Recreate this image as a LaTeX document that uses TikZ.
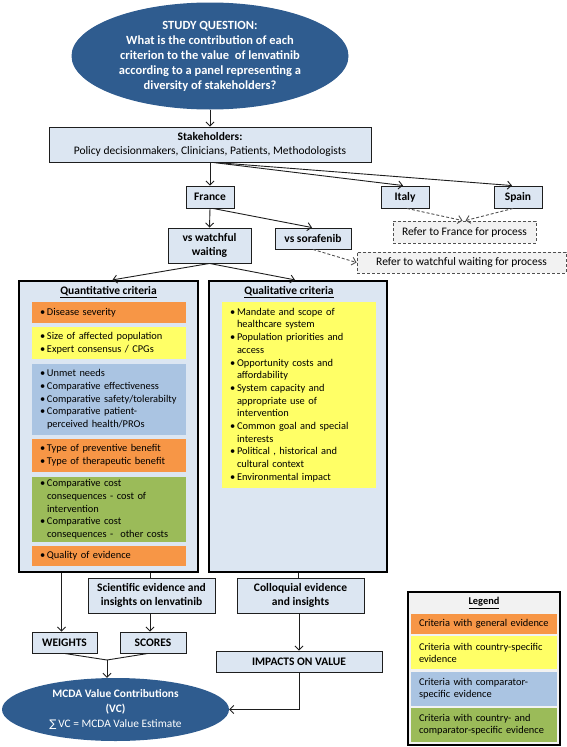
\documentclass[tikz,border=0pt]{standalone}
\usepackage{fontspec}
\setmainfont{Carlito}
\newfontfamily\symfont{DejaVu Sans}
\usetikzlibrary{arrows.meta,shapes.geometric}
\definecolor{dblue}{RGB}{47,92,143}
\definecolor{lblue}{RGB}{220,230,242}
\definecolor{corange}{RGB}{247,150,70}
\definecolor{cyellow}{RGB}{255,255,102}
\definecolor{cblue}{RGB}{170,196,226}
\definecolor{cgreen}{RGB}{155,187,89}
\definecolor{lgray}{RGB}{242,242,242}
\definecolor{lnc}{RGB}{30,30,30}
\definecolor{dashc}{RGB}{80,80,80}
\newcommand{\bitem}[1]{\leftskip=7pt\noindent\llap{\makebox[7pt][l]{•}}#1\par}
\begin{document}
\begin{tikzpicture}[x=1pt,y=-1pt,
  ell/.style={ellipse, fill=dblue, text=white, inner sep=0pt, align=center},
  lbox/.style={draw=lnc, line width=0.9pt, fill=lblue, inner sep=0pt, align=center, font=\fontsize{11.5}{14}\selectfont},
  lboxb/.style={lbox, font=\bfseries\fontsize{11.5}{14}\selectfont},
  dbox/.style={draw=dashc, dashed, dash pattern=on 3pt off 2pt, line width=0.9pt, fill=lgray, inner sep=0pt, font=\fontsize{11.5}{14}\selectfont},
  bigbox/.style={draw=black, line width=2.2pt, fill=lblue, inner sep=0pt},
  titlet/.style={inner sep=0pt, font=\bfseries\fontsize{11.5}{14}\selectfont},
  cbox/.style={inner sep=0pt, minimum width=154pt, text width=138pt, align=left, font=\fontsize{10.4}{12.7}\selectfont},
  lcbox/.style={inner sep=0pt, minimum width=146pt, text width=130pt, align=left, font=\fontsize{10.4}{12}\selectfont},
  legbox/.style={draw=black, line width=2pt, fill=lgray, inner sep=0pt},
  conn/.style={draw=lnc, line width=0.9pt},
  arr/.style={conn, -{Straight Barb[length=4pt,width=8pt]}},
  darr/.style={draw=dashc, line width=0.9pt, dashed, dash pattern=on 3pt off 2pt, -{Straight Barb[length=4pt,width=8pt]}}
]
\useasboundingbox (0,0) rectangle (567,747);

% top ellipse
\node[ell, minimum width=277pt, minimum height=107pt, font=\bfseries\fontsize{12.5}{15}\selectfont] (q) at (210,56)
  {STUDY QUESTION:\\What is the contribution of each\\criterion to the value\ \ of lenvatinib\\according to a panel representing a\\diversity of stakeholders?};

\node[lbox, minimum width=322pt, minimum height=35pt] (stake) at (210,144.5)
  {\textbf{Stakeholders:}\\Policy decisionmakers, Clinicians, Patients, Methodologists};

\node[lboxb, minimum width=48pt, minimum height=22pt] (france) at (210,197) {France};
\node[lboxb, minimum width=48pt, minimum height=22pt] (italy) at (405,197) {Italy};
\node[lboxb, minimum width=48pt, minimum height=22pt] (spain) at (518,197) {Spain};
\node[dbox, minimum width=143pt, minimum height=22pt] (reffr) at (464.5,232) {Refer to France for process};
\node[lboxb, minimum width=83pt, minimum height=35pt] (vsww) at (209.5,245.5) {vs watchful\\waiting};
\node[lboxb, minimum width=76pt, minimum height=21pt] (vssor) at (313,238.5) {vs sorafenib};
\node[dbox, minimum width=209pt, minimum height=21pt] (refww) at (461.5,262.5) {Refer to watchful waiting for process};

% criteria panels
\node[bigbox, minimum width=179pt, minimum height=291pt] (quant) at (108.5,426.5) {};
\node[bigbox, minimum width=178pt, minimum height=291pt] (qual) at (298,426.5) {};
\node[titlet] (quantt) at (108.5,292) {\underline{Quantitative criteria}};
\node[titlet] (qualt) at (289,292) {\underline{Qualitative criteria}};

\node[cbox, fill=corange, minimum height=21pt] (o1) at (109,312.5) {\bitem{Disease severity}};
\node[cbox, fill=cyellow, minimum height=32pt] (y1) at (109,343) {\bitem{Size of affected population}\bitem{Expert consensus / CPGs}};
\node[cbox, fill=cblue, minimum height=71pt] (b1) at (109,399.5) {\bitem{Unmet needs}\bitem{Comparative effectiveness}\bitem{Comparative safety/tolerabilty}\bitem{Comparative patient-\newline perceived health/PROs}};
\node[cbox, fill=corange, minimum height=33pt] (o2) at (109,455.5) {\bitem{Type of preventive benefit}\bitem{Type of therapeutic benefit}};
\node[cbox, fill=cgreen, minimum height=65pt] (g1) at (109,509.5) {\bitem{Comparative cost\newline consequences - cost of\newline intervention}\bitem{Comparative cost\newline consequences -\ \ other costs}};
\node[cbox, fill=corange, minimum height=20pt] (o3) at (109,556) {\bitem{Quality of evidence}};

\node[cbox, fill=cyellow, minimum height=186pt] (y2) at (299,395) {\bitem{Mandate and scope of\newline healthcare system}\bitem{Population priorities and\newline access}\bitem{Opportunity costs and\newline affordability}\bitem{System capacity and\newline appropriate use of\newline intervention}\bitem{Common goal and special\newline interests}\bitem{Political , historical and\newline cultural context}\bitem{Environmental impact}};

% bottom part
\node[lboxb, minimum width=127pt, minimum height=35pt] (sci) at (151.5,595.5) {Scientific evidence and\\insights on lenvatinib};
\node[lboxb, minimum width=127pt, minimum height=35pt] (coll) at (300.5,595.5) {Colloquial evidence\\and insights};
\node[lboxb, minimum width=65pt, minimum height=21pt] (weights) at (64.5,642.5) {WEIGHTS};
\node[lboxb, minimum width=66pt, minimum height=21pt] (scores) at (153,642.5) {SCORES};
\node[lboxb, minimum width=166pt, minimum height=21pt] (impacts) at (299,661.5) {IMPACTS ON VALUE};
\node[ell, minimum width=227pt, minimum height=63pt, font=\fontsize{11.4}{15}\selectfont] (mcda) at (115.5,709.5)
  {\textbf{MCDA Value Contributions}\\\textbf{(VC)}\\{\symfont\fontsize{10.5}{15}\selectfont ∑}\,VC = MCDA Value Estimate};
\coordinate (j) at (107,660);

% legend
\node[legbox, minimum width=152pt, minimum height=153pt] (leg) at (484,668.5) {};
\node[titlet, font=\bfseries\fontsize{10.4}{12}\selectfont] (legt) at (484,603) {\underline{Legend}};
\node[lcbox, fill=corange, minimum height=20pt] (lo) at (484,624) {Criteria with general evidence};
\node[lcbox, fill=cyellow, minimum height=33pt] (ly) at (484,652.5) {Criteria with country-specific\\evidence};
\node[lcbox, fill=cblue, minimum height=34pt] (lb) at (484,689) {Criteria with comparator-\\specific evidence};
\node[lcbox, fill=cgreen, minimum height=34pt] (lg) at (484,725) {Criteria with country- and\\comparator-specific evidence};

% connectors
\draw[arr] (q.south) -- (stake.north);
\draw[arr] (stake.south) -- (france.north);
\draw[arr] ([xshift=3pt]stake.south) -- ([xshift=-2pt]italy.north);
\draw[arr] ([xshift=5pt]stake.south) -- ([xshift=-6pt]spain.north);
\draw[arr] (france.south) -- (vsww.north);
\draw[arr] ([xshift=3pt]france.south) -- ([xshift=-1pt]vssor.north);
\draw[darr] ([xshift=2pt]italy.south) -- ([xshift=-2pt]reffr.north);
\draw[darr] ([xshift=-5pt]spain.south) -- ([xshift=1pt]reffr.north);
\draw[darr] (vssor.south) -- (refww.west);
\draw[arr] (vsww.south) -- ([xshift=4pt]quant.north);
\draw[arr] (vsww.south) -- ([xshift=-3pt]qual.north);
\draw[arr] ([xshift=-3pt]weights.north |- quant.south) -- ([xshift=-3pt]weights.north);
\draw[conn] ([xshift=-1.5pt]sci.north |- quant.south) -- ([xshift=-1.5pt]sci.north);
\draw[arr] ([xshift=-3pt]scores.north |- sci.south) -- ([xshift=-3pt]scores.north);
\draw[conn] (weights.south) -- (j);
\draw[conn] ([xshift=-5pt]scores.south) -- (j);
\draw[arr] (j) -- (j |- mcda.north);
\draw[conn] ([xshift=-2.5pt]coll.north |- qual.south) -- ([xshift=-2.5pt]coll.north);
\draw[arr] (impacts.north |- coll.south) -- (impacts.north);
\draw[arr] (impacts.south) -- (impacts.south |- mcda.east) -- (mcda.east);
\end{tikzpicture}
\end{document}
